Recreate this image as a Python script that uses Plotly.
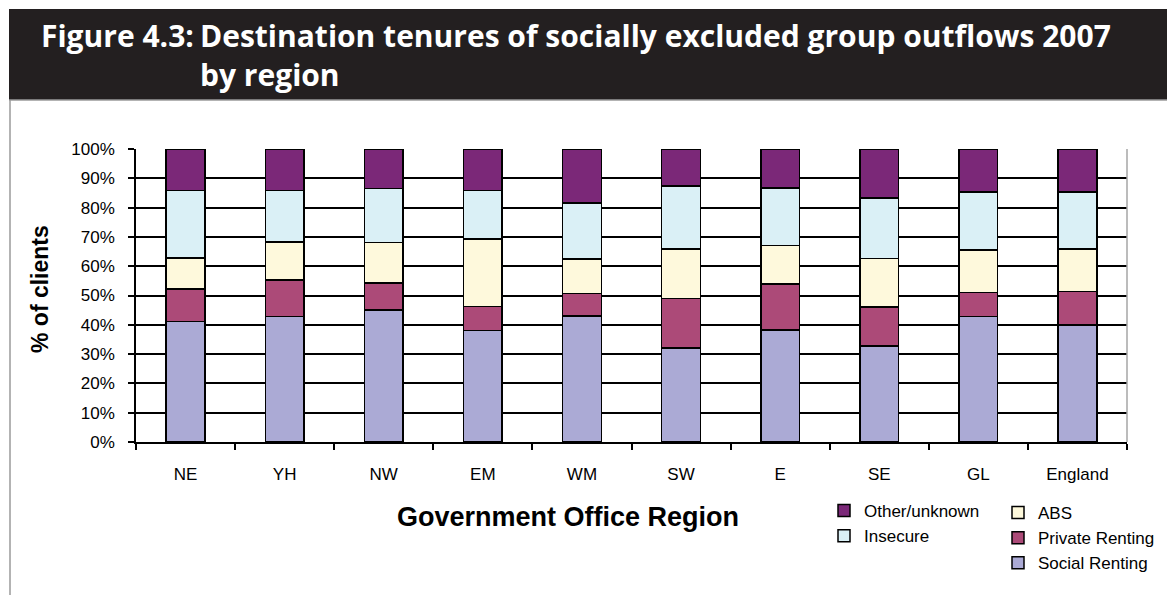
import plotly.graph_objects as go

regions = ["NE", "YH", "NW", "EM", "WM", "SW", "E", "SE", "GL", "England"]
social_renting = [41.2, 42.8, 45.1, 38.0, 43.0, 32.0, 38.3, 32.8, 42.8, 40.0]
private_renting = [11.0, 12.5, 9.2, 8.3, 7.7, 17.0, 15.6, 13.3, 8.3, 11.4]
abs_vals = [10.6, 13.0, 13.8, 23.0, 11.8, 16.9, 13.1, 16.5, 14.5, 14.4]
insecure = [23.0, 17.5, 18.4, 16.5, 19.0, 21.4, 19.7, 20.7, 19.7, 19.5]
other_unknown = [14.2, 14.2, 13.5, 14.2, 18.5, 12.7, 13.3, 16.7, 14.7, 14.7]

W, H = 1167, 595
L, R, T, B = 136, 40, 149, 153
PW, PH = W - L - R, H - T - B


def px(x):
    return (x - L) / PW


def py(y):
    return (H - B - y) / PH


fig = go.Figure()
series = [
    ("Social Renting", social_renting, "#ABAAD5", "legend2"),
    ("Private Renting", private_renting, "#AC4A78", "legend2"),
    ("ABS", abs_vals, "#FEF9DC", "legend2"),
    ("Insecure", insecure, "#DAF0F6", "legend"),
    ("Other/unknown", other_unknown, "#7B2878", "legend"),
]
for name, vals, col, lg in series:
    fig.add_trace(go.Bar(
        x=regions, y=vals, name=name, legend=lg, legendgroup=name,
        marker=dict(color=col, line=dict(color="#000000", width=1.5)),
    ))

fig.update_layout(
    width=W, height=H,
    margin=dict(l=L, r=R, t=T, b=B, autoexpand=False),
    paper_bgcolor="white", plot_bgcolor="white",
    barmode="stack", bargap=0.61,
    font=dict(family="Liberation Sans, Arial", size=17, color="#000000"),
    legend=dict(
        x=px(824), y=py(493), xanchor="left", yanchor="top",
        traceorder="reversed", font=dict(size=17), tracegroupgap=6,
        bgcolor="rgba(0,0,0,0)", itemwidth=30,
    ),
    legend2=dict(
        x=px(998), y=py(495), xanchor="left", yanchor="top",
        traceorder="reversed", font=dict(size=17), tracegroupgap=6,
        bgcolor="rgba(0,0,0,0)", itemwidth=30,
    ),
)
fig.update_yaxes(
    range=[0, 100], tick0=0, dtick=10, ticksuffix="%",
    showgrid=True, gridcolor="#000000", gridwidth=1.5,
    showline=True, linecolor="#000000", linewidth=1.5,
    ticks="outside", ticklen=6, tickcolor="#000000", tickwidth=1.5,
    ticklabelstandoff=10, zeroline=False,
)
fig.update_xaxes(
    showline=True, linecolor="#000000", linewidth=1.5,
    ticks="outside", ticklen=6, tickcolor="#000000", tickwidth=1.5,
    tickson="boundaries", ticklabelstandoff=16, showgrid=False,
)

shapes = [
    dict(type="rect", xref="paper", yref="paper", x0=px(9), x1=px(1167), y0=py(100), y1=py(9),
         fillcolor="#231F20", line=dict(width=0), layer="below"),
    dict(type="line", xref="paper", yref="paper", x0=px(10), x1=px(10), y0=py(100), y1=py(595),
         line=dict(color="#9A9A9A", width=1.5)),
    dict(type="line", xref="paper", yref="paper", x0=px(9), x1=px(1167), y0=py(100), y1=py(100),
         line=dict(color="#9A9A9A", width=1.5)),
    dict(type="line", xref="paper", yref="paper", x0=1, x1=1, y0=0, y1=1,
         line=dict(color="#A6A6A6", width=1.5)),
]
fig.update_layout(shapes=shapes)

title_font = dict(family="Open Sans", size=30, color="white")
ann = [
    dict(text="<b>Figure 4.3:</b>", x=px(40), y=py(35), xanchor="left", yanchor="middle",
         font=title_font),
    dict(text="<b>Destination tenures of socially excluded group outflows 2007</b>",
         x=px(199), y=py(35), xanchor="left", yanchor="middle", font=title_font),
    dict(text="<b>by region</b>", x=px(199), y=py(74.5), xanchor="left", yanchor="middle",
         font=title_font),
    dict(text="<b>Government Office Region</b>",
         x=px(568), y=py(517), xanchor="center", yanchor="middle",
         font=dict(size=27)),
    dict(text="<b>% of clients</b>", textangle=-90,
         x=px(40), y=py(289), xanchor="center", yanchor="middle",
         font=dict(size=23)),
]
for a in ann:
    a.update(xref="paper", yref="paper", showarrow=False, borderpad=0)
fig.update_layout(annotations=ann)

fig.write_html("out.html", config={"displayModeBar": False},
               post_script="document.body.style.margin='0px';")
